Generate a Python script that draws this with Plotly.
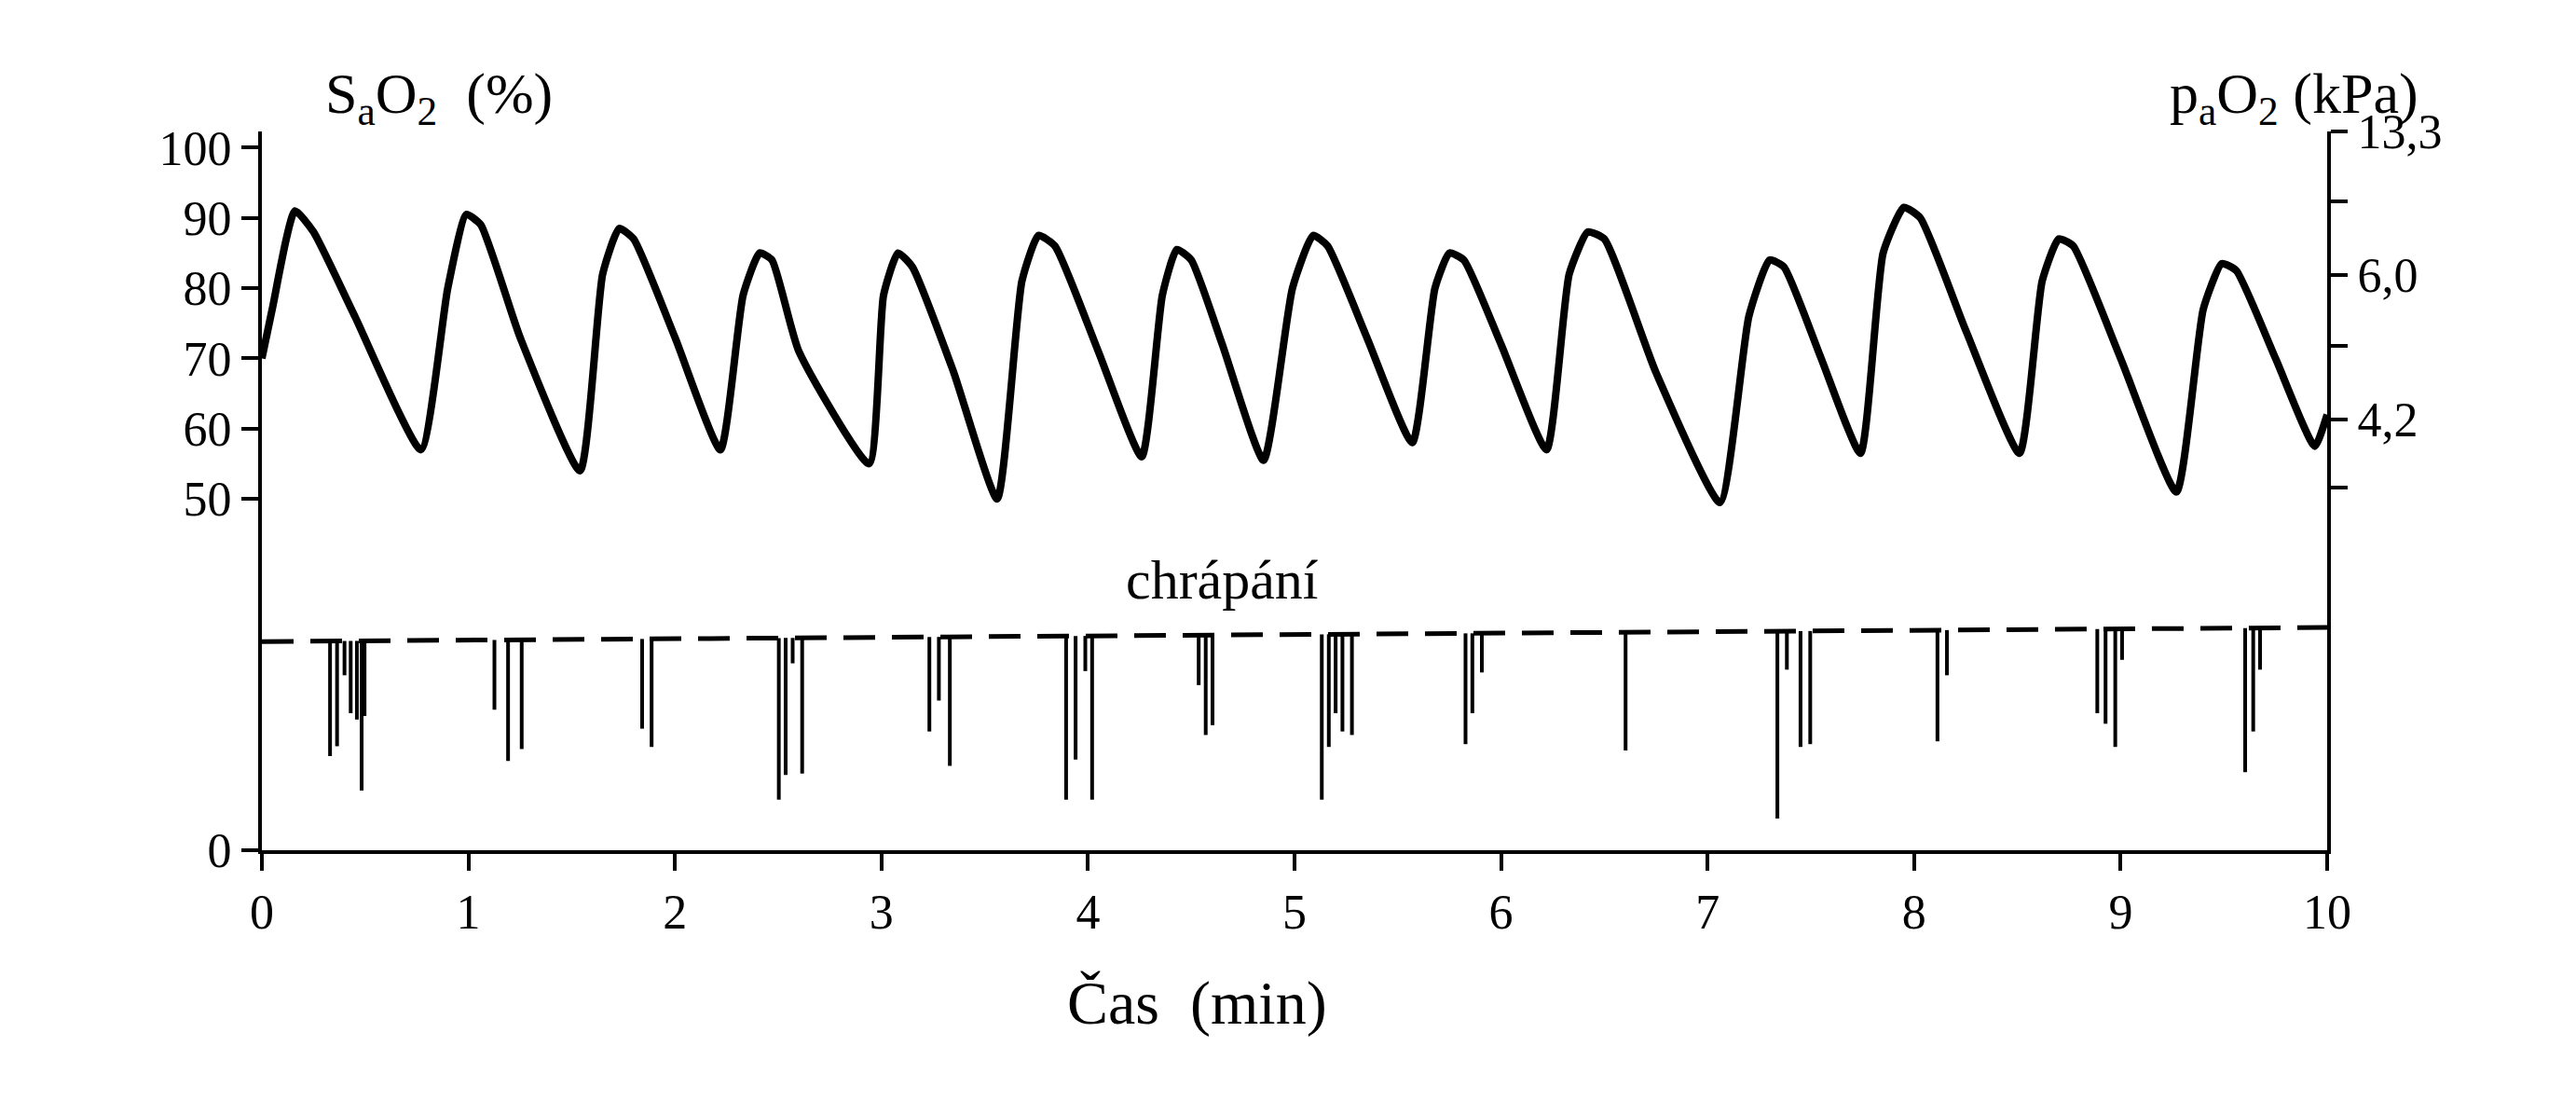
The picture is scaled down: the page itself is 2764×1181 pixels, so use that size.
import plotly.graph_objects as go

# SaO2 curve: (time min, SaO2 %)
sat_t = [0.0, 0.05, 0.16, 0.25, 0.45, 0.77, 0.90, 0.99, 1.06, 1.25, 1.54, 1.65, 1.73, 1.80, 2.0, 2.22,
         2.33, 2.41, 2.47, 2.60, 2.94, 3.01, 3.08, 3.15, 3.35, 3.56, 3.68, 3.76, 3.84, 4.05, 4.26,
         4.36, 4.43, 4.50, 4.65, 4.85, 4.99, 5.09, 5.16, 5.35, 5.57, 5.68, 5.75, 5.82, 6.0, 6.22,
         6.33, 6.42, 6.50, 6.75, 7.06, 7.20, 7.30, 7.37, 7.55, 7.74, 7.85, 7.95, 8.03, 8.25, 8.51,
         8.62, 8.70, 8.77, 9.0, 9.27, 9.40, 9.49, 9.56, 9.75, 9.94, 10.0]
sat_v = [70, 77, 91, 88, 76, 57, 80, 90.5, 89, 73, 54, 82, 88.5, 87, 73, 57,
         79, 85, 84, 71, 55, 79, 85, 83, 68, 50, 81, 87.5, 86, 71, 56,
         79, 85.5, 84, 72, 55.5, 80, 87.5, 86, 73, 58, 80, 85, 84, 72, 57,
         82, 88, 87, 68, 49.5, 76, 84, 83, 70, 56.5, 85, 91.5, 90, 74, 56.5,
         81, 87, 86, 70, 51, 77, 83.5, 82.5, 70, 57.5, 62]

# snoring events: time (min) and lower end of each stroke
snore_t = [0.33, 0.364, 0.40, 0.43, 0.46, 0.483, 0.497, 1.126, 1.192, 1.258, 1.841, 1.887,
           2.503, 2.536, 2.570, 2.616, 3.232, 3.278, 3.331, 3.894, 3.940, 3.987, 4.020,
           4.536, 4.570, 4.603, 5.132, 5.166, 5.199, 5.232, 5.278, 5.828, 5.861, 5.907,
           6.603, 7.338, 7.384, 7.450, 7.497, 8.113, 8.159, 8.887, 8.927, 8.974, 9.007,
           9.603, 9.642, 9.675]
snore_low = [13.4, 14.8, 24.9, 19.5, 18.6, 8.5, 19.1, 20.0, 12.7, 14.4, 17.3, 14.7,
             7.2, 10.7, 26.6, 10.9, 16.9, 21.3, 12.0, 7.2, 12.9, 25.5, 7.2,
             23.5, 16.4, 17.8, 7.2, 14.7, 19.5, 16.9, 16.4, 15.1, 19.5, 25.3,
             14.2, 4.5, 25.7, 14.7, 15.1, 15.5, 24.9, 19.5, 18.0, 14.7, 27.1,
             11.1, 16.9, 25.7]
baseline_t = [0, 10]
baseline_v = [29.7, 31.7]

left_ticks = [0, 50, 60, 70, 80, 90, 100]
right_tickvals = [102.3, 92.3, 81.9, 71.8, 61.3, 51.6]
right_ticktext = ["13,3", "", "6,0", "", "4,2", ""]
x_ticks = list(range(0, 11))

def base_at(t):
    return baseline_v[0] + (baseline_v[1] - baseline_v[0]) * t / 10

sx, sy = [], []
for t, low in zip(snore_t, snore_low):
    sx += [t, t, None]
    sy += [base_at(t), low, None]

FONT = "Liberation Serif"
fig = go.Figure()
fig.add_trace(go.Scatter(x=sx, y=sy, mode="lines", line=dict(color="black", width=4),
                         showlegend=False, hoverinfo="skip"))
fig.add_trace(go.Scatter(x=baseline_t, y=baseline_v, mode="lines",
                         line=dict(color="black", width=5, dash="34px,18px"), showlegend=False))
fig.add_trace(go.Scatter(x=sat_t, y=sat_v, mode="lines",
                         line=dict(color="black", width=8, shape="spline", smoothing=0.5),
                         showlegend=False))
fig.add_trace(go.Scatter(x=[0], y=[0], yaxis="y2", mode="markers", marker=dict(opacity=0),
                         showlegend=False, hoverinfo="skip"))

axis_common = dict(showgrid=False, zeroline=False, showline=True, linecolor="black", linewidth=4,
                   ticks="outside", ticklen=18, tickwidth=4, tickcolor="black",
                   tickfont=dict(family=FONT, size=52, color="black"))
fig.update_layout(
    width=2764, height=1181, plot_bgcolor="white", paper_bgcolor="white",
    margin=dict(l=273, r=275, t=133, b=277),
    xaxis=dict(range=[0, 10], tickvals=x_ticks, **axis_common),
    yaxis=dict(range=[0, 102.3], tickvals=left_ticks, **axis_common),
    yaxis2=dict(range=[0, 102.3], overlaying="y", side="right", tickvals=right_tickvals,
                ticktext=right_ticktext, **axis_common),
    annotations=[
        dict(text="S<sub>a</sub>O<sub>2</sub>  (%)", x=0.03, y=1.10, xref="paper", yref="paper",
             showarrow=False, font=dict(family=FONT, size=62, color="black")),
        dict(text="p<sub>a</sub>O<sub>2</sub> (kPa)", x=1.045, y=1.10, xref="paper", yref="paper",
             showarrow=False, font=dict(family=FONT, size=62, color="black")),
        dict(text="Čas  (min)", x=0.453, y=-0.263, xref="paper", yref="paper",
             showarrow=False, font=dict(family=FONT, size=66, color="black")),
        dict(text="chrápání", x=4.65, y=38.5, xref="x", yref="y",
             showarrow=False, font=dict(family=FONT, size=60, color="black")),
    ],
)
fig.write_html("out.html")
